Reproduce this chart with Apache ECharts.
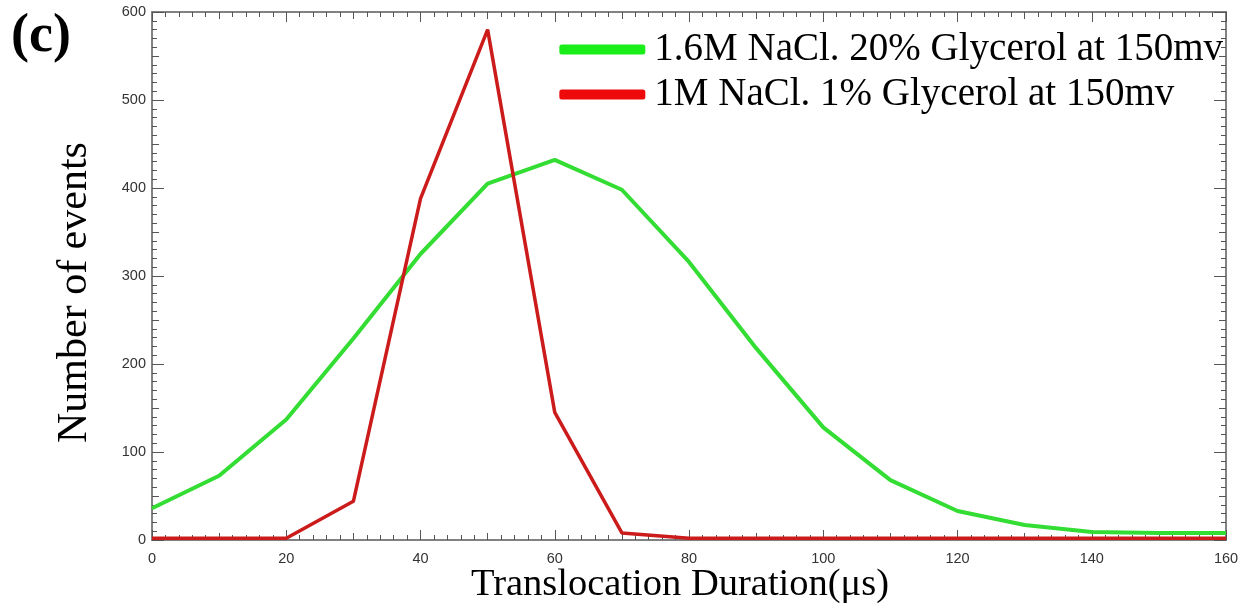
<!DOCTYPE html>
<html>
<head>
<meta charset="utf-8">
<script src="https://cdn.jsdelivr.net/npm/echarts@6/dist/echarts.min.js"></script>
<style>
  html, body { margin: 0; padding: 0; background: #fff; }
  #chart { width: 1248px; height: 613px; }
</style>
</head>
<body>
<div id="chart"></div>
<script>
// Translocation duration bins (µs)
const durations = [0, 10, 20, 30, 40, 50, 60, 70, 80, 90, 100, 110, 120, 130, 140, 150, 160];
// Event counts per bin
const glycerol20 = [36, 73, 137, 229, 325, 405, 432, 398, 316, 218, 128, 68, 33, 17, 9, 8, 8];
const glycerol1 = [2, 2, 2, 44, 388, 580, 145, 8, 2, 2, 2, 2, 2, 2, 2, 2, 2];
const seriesNames = ['1.6M NaCl. 20% Glycerol at 150mv', '1M NaCl. 1% Glycerol at 150mv'];
const xTickLabels = ['0', '20', '40', '60', '80', '100', '120', '140', '160'];
const yTickLabels = ['0', '100', '200', '300', '400', '500', '600'];

const pairs = (xs, ys) => xs.map((x, i) => [x, ys[i]]);

const axisGray = '#7a7a7a';
const tickFont = { fontFamily: 'Liberation Sans, Arial, sans-serif', fontSize: 14.5, color: '#333' };
const serif = '"Liberation Serif", "Times New Roman", serif';

function xAxisDef(pos, interval, len, labels, minor) {
  return {
    type: 'value', position: pos, min: 0, max: 160, interval: interval,
    axisLine: { show: true, onZero: false, lineStyle: { color: axisGray, width: 1.5 } },
    axisTick: { show: true, inside: true, length: len, lineStyle: { color: '#555' } },
    minorTick: { show: minor, splitNumber: 10, length: 5, lineStyle: { color: '#555' } },
    axisLabel: labels ? Object.assign({
      show: true, margin: 11,
      formatter: v => (xTickLabels.includes(String(v)) ? String(v) : '')
    }, tickFont) : { show: false },
    splitLine: { show: false }
  };
}
function yAxisDef(pos, interval, len, labels, minor) {
  return {
    type: 'value', position: pos, min: 0, max: 600, interval: interval,
    axisLine: { show: true, onZero: false, lineStyle: { color: axisGray, width: 1.5 } },
    axisTick: { show: true, inside: true, length: len, lineStyle: { color: '#555' } },
    minorTick: { show: minor, splitNumber: 10, length: 5, lineStyle: { color: '#555' } },
    axisLabel: labels ? Object.assign({
      show: true, margin: 6,
      formatter: v => (yTickLabels.includes(String(v)) ? String(v) : '')
    }, tickFont) : { show: false },
    splitLine: { show: false }
  };
}

const chart = echarts.init(document.getElementById('chart'), null, { renderer: 'canvas' });
chart.setOption({
  backgroundColor: '#fff',
  animation: false,
  grid: { left: 152, right: 22, top: 12, bottom: 73 },
  graphic: [
    {
      type: 'text', left: 11, top: 10,
      style: { text: '(c)', font: 'bold 54px ' + serif, fill: '#000' }
    },
    {
      type: 'text', left: 471, top: 565,
      style: { text: 'Translocation Duration(μs)', font: '38.5px ' + serif, fill: '#000' }
    },
    {
      type: 'text', x: 54, y: 443, rotation: Math.PI / 2,
      style: { text: 'Number of events', font: '42px ' + serif, fill: '#000' },
      originX: 0, originY: 0
    }
  ],
  legend: {
    top: 25, right: 20, orient: 'vertical', itemGap: 6,
    itemWidth: 86, itemHeight: 10, icon: 'roundRect',
    textStyle: { fontFamily: 'Liberation Serif, Times New Roman, serif', fontSize: 39, color: '#000', padding: [0, 0, 0, 4] },
    data: [
      { name: seriesNames[0], itemStyle: { color: '#19ee19' } },
      { name: seriesNames[1], itemStyle: { color: '#ee0a0a' } }
    ]
  },
  xAxis: [
    xAxisDef('bottom', 20, 10, true, true),
    xAxisDef('bottom', 10, 7, false, false),
    xAxisDef('top', 20, 10, false, true),
    xAxisDef('top', 10, 7, false, false)
  ],
  yAxis: [
    yAxisDef('left', 100, 12, true, true),
    yAxisDef('left', 50, 7, false, false),
    yAxisDef('right', 100, 12, false, true),
    yAxisDef('right', 50, 7, false, false)
  ],
  series: [
    {
      name: seriesNames[0], type: 'line', data: pairs(durations, glycerol20),
      showSymbol: false, symbol: 'none', z: 3,
      lineStyle: { color: '#33dd33', width: 4 }, itemStyle: { color: '#33dd33' }
    },
    {
      name: seriesNames[1], type: 'line', data: pairs(durations, glycerol1),
      showSymbol: false, symbol: 'none', z: 4,
      lineStyle: { color: '#cc1b1b', width: 3.5 }, itemStyle: { color: '#cc1b1b' }
    }
  ]
});
</script>
</body>
</html>
